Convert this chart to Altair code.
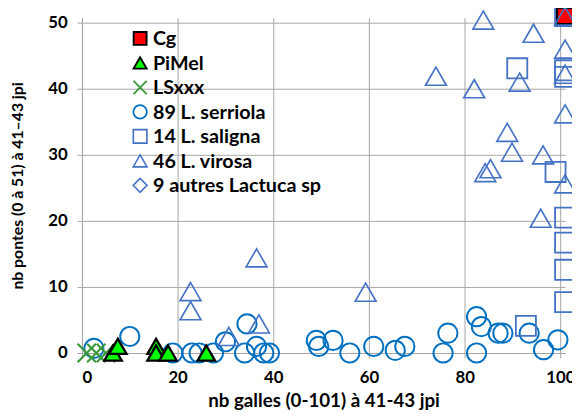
import altair as alt
import pandas as pd

SERIES = ["Cg", "PiMel", "LSxxx", "89 L. serriola", "14 L. saligna", "46 L. virosa", "9 autres Lactuca sp"]

cg_x = [101]
cg_y = [51]

pimel_x = [6.5, 7.5, 15.5, 15.5, 18, 26]
pimel_y = [0, 1, 1, 0, 0, 0]

ls_x = [1, 3, 5]
ls_y = [0, 0, 0]

serriola_x = [2.5, 10, 19, 23, 24.5, 27.5, 30, 34.5, 34, 36.5, 38, 39.2, 49, 49.5, 52.5, 56,
              61, 65.5, 67.5, 75.5, 76.5, 82.5, 83.5, 87, 88, 93.5, 82.5, 96.5, 99.5]
serriola_y = [0.7, 2.5, 0, 0, 0, 0, 1.7, 4.4, 0, 1, 0, 0, 1.9, 1, 1.9, 0,
              1, 0.4, 1, 0, 3, 5.5, 4, 3, 3, 3, 0, 0.5, 2]

saligna_x = [101, 91, 101, 101, 99, 92.8, 101, 101, 101, 101]
saligna_y = [51, 43.1, 42.8, 41.8, 27.4, 4.1, 20.5, 16.7, 12.6, 7.7]

virosa_x = [101, 83.9, 94.4, 101, 101, 91.5, 82, 74, 101, 88.9, 89.9, 96.4, 84.3, 85.4,
            101, 95.9, 36.5, 22.7, 22.7, 59.3, 37, 30.7]
virosa_y = [51, 50.4, 48.4, 46, 42.2, 41, 40, 41.9, 36.2, 33.4, 30.4, 30, 27.3, 27.9,
            25.6, 20.4, 14.4, 9.3, 6.4, 9.2, 4.4, 2.5]

autres_x = []
autres_y = []

groups = [
    ("Cg", cg_x, cg_y),
    ("89 L. serriola", serriola_x, serriola_y),
    ("14 L. saligna", saligna_x, saligna_y),
    ("46 L. virosa", virosa_x, virosa_y),
    ("9 autres Lactuca sp", autres_x, autres_y),
    ("LSxxx", ls_x, ls_y),
    ("PiMel", pimel_x, pimel_y),
]
rows = []
for name, xs, ys in groups:
    for a, b in zip(xs, ys):
        rows.append({"series": name, "x": a, "y": b})
df = pd.DataFrame(rows)
leg_df = pd.DataFrame({"series": SERIES})

BLUE = "#0070C0"
STEEL = "#4472C4"
XPATH = "M-1,-1L1,1M-1,1L1,-1"

shape_range = ["square", "triangle-up", XPATH, "circle", "square", "triangle-up", "diamond"]
fill_range = ["#FF0000", "#00FF00", "transparent", "transparent", "transparent", "transparent", "transparent"]
stroke_range = ["#000000", "#000000", "#3A9A3A", BLUE, STEEL, STEEL, STEEL]
size_range = [280, 480, 45, 100, 125, 125, 125]
sw_range = [2.5, 1.5, 2.2, 2.2, 1.6, 1.6, 1.6]
leg_size_range = [170, 200, 38, 115, 135, 140, 135]
leg_sw_range = [2, 1.5, 2.2, 2, 1.6, 1.6, 1.6]

FONT = "Lato"

shape_enc = alt.Shape("series:N", scale=alt.Scale(domain=SERIES, range=shape_range), legend=None)
fill_enc = alt.Fill("series:N", scale=alt.Scale(domain=SERIES, range=fill_range), legend=None)
stroke_enc = alt.Stroke("series:N", scale=alt.Scale(domain=SERIES, range=stroke_range), legend=None)

points = alt.Chart(df).mark_point(opacity=1, filled=False).encode(
    x=alt.X("x:Q", scale=alt.Scale(domain=[0, 101], nice=False, zero=False),
            axis=alt.Axis(values=[0, 20, 40, 60, 80, 100], title="nb galles (0-101) à  41-43 jpi",
                          labelPadding=12, titlePadding=6, titleFontSize=19)),
    y=alt.Y("y:Q", scale=alt.Scale(domain=[0, 50.75], nice=False, zero=False),
            axis=alt.Axis(values=[0, 10, 20, 30, 40, 50], title="nb pontes (0 à 51) à 41–43 jpi",
                          labelPadding=10, titlePadding=23)),
    shape=shape_enc, fill=fill_enc, stroke=stroke_enc,
    size=alt.Size("series:N", scale=alt.Scale(domain=SERIES, range=size_range), legend=None),
    strokeWidth=alt.StrokeWidth("series:N", scale=alt.Scale(domain=SERIES, range=sw_range), legend=None),
)

leg_y = alt.Y("series:N", scale=alt.Scale(domain=SERIES, type="point", range=[21, 170], padding=0), axis=None)

leg_symbols = alt.Chart(leg_df).mark_point(opacity=1, filled=False).encode(
    x=alt.value(59), y=leg_y,
    shape=shape_enc, fill=fill_enc, stroke=stroke_enc,
    size=alt.Size("series:N", scale=alt.Scale(domain=SERIES, range=leg_size_range), legend=None),
    strokeWidth=alt.StrokeWidth("series:N", scale=alt.Scale(domain=SERIES, range=leg_sw_range), legend=None),
)

leg_text = alt.Chart(leg_df).mark_text(
    align="left", baseline="middle", font=FONT, fontSize=20, fontWeight="bold", color="#000000", dy=1
).encode(x=alt.value(72), y=leg_y, text="series:N")

chart = alt.layer(points, leg_symbols, leg_text).resolve_scale(
    y="independent", strokeWidth="independent", size="independent"
).properties(
    width=490, height=340,
    autosize=alt.AutoSizeParams(type="none"),
    padding={"left": 75, "top": 7, "right": 7, "bottom": 60},
).configure_view(
    strokeWidth=0
).configure_axis(
    labelFont=FONT, labelFontSize=17, labelFontWeight="bold", labelColor="#000000",
    titleFont=FONT, titleFontSize=16, titleFontWeight="bold", titleColor="#000000",
    gridColor="#A6A6A6", gridWidth=1, domainColor="#A6A6A6", domainWidth=1,
    tickColor="#A6A6A6", tickSize=5,
)

chart.save("out.html", embed_options={"renderer": "svg", "actions": False})
